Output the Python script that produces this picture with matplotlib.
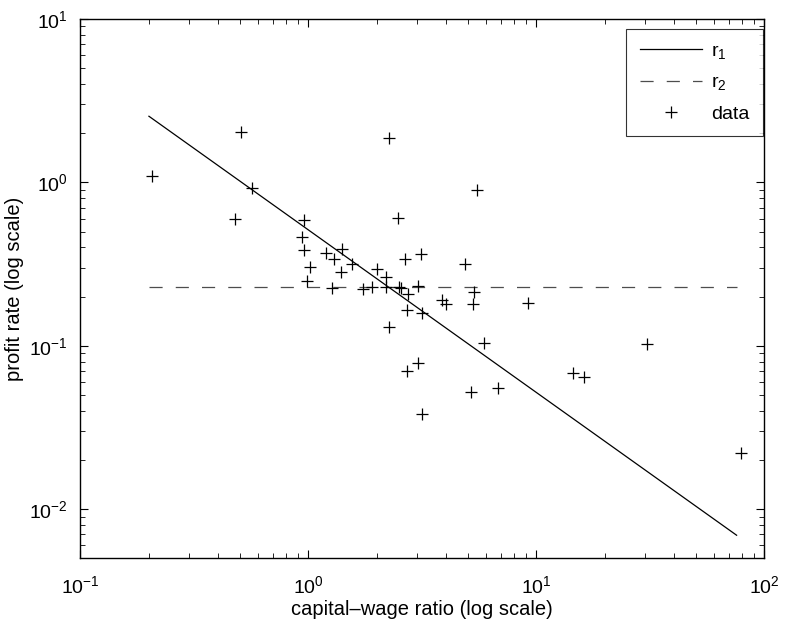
import matplotlib
matplotlib.use("Agg")
import matplotlib.pyplot as plt
import numpy as np
from matplotlib.ticker import LogLocator, NullFormatter

plt.rcParams['font.family'] = ['Liberation Sans', 'DejaVu Sans']
plt.rcParams['mathtext.fontset'] = 'custom'
plt.rcParams['mathtext.rm'] = 'Liberation Sans'
plt.rcParams['mathtext.it'] = 'Liberation Sans'
plt.rcParams['mathtext.bf'] = 'Liberation Sans'

# data
x_data = [0.206, 0.506, 0.564, 0.478, 0.960, 0.942, 0.960, 1.02, 0.984,
          2.26, 5.47, 2.48, 1.19, 1.40, 1.30, 1.39, 1.56, 1.275, 2.01, 2.19,
          2.66, 3.13, 4.87, 1.746, 1.91, 2.20, 2.51, 2.56, 3.04, 2.75, 5.31,
          3.86, 4.03, 5.28, 9.21, 2.72, 3.15, 2.27, 5.88, 3.04, 2.72, 5.17,
          6.80, 3.15, 30.7, 14.47, 16.2, 79.2]
y_data = [1.10, 2.03, 0.924, 0.597, 0.591, 0.461, 0.388, 0.304, 0.248,
          1.87, 0.893, 0.606, 0.370, 0.393, 0.340, 0.283, 0.318, 0.226, 0.293, 0.263,
          0.342, 0.365, 0.315, 0.223, 0.230, 0.228, 0.230, 0.227, 0.231, 0.206, 0.213,
          0.190, 0.179, 0.179, 0.183, 0.165, 0.159, 0.1306, 0.104, 0.0787, 0.070, 0.052,
          0.0554, 0.0384, 0.103, 0.0684, 0.0643, 0.0220]

r1_coef = 0.512
r1_exp = -0.995
r2_level = 0.230
fit_x = [0.2, 75.6]

fig = plt.figure(figsize=(7.86, 6.25), dpi=100)
ax = fig.add_axes([80.3/786, 1-558.3/625, (764.3-80.3)/786, (558.3-19)/625])

fx = np.array(fit_x)
ax.plot(fx, r1_coef * fx**r1_exp, color='black', lw=0.9, label='r$_1$')
ax.plot(fx, [r2_level, r2_level], color='0.3', lw=0.9, dashes=(10.5, 10.5), label='r$_2$')
ax.plot(x_data, y_data, linestyle='none', marker='+', color='black',
        markersize=9, markeredgewidth=0.9, label='data')

ax.set_xscale('log')
ax.set_yscale('log')
ax.set_xlim(0.1, 100)
ax.set_ylim(0.005, 10)

for s in ax.spines.values():
    s.set_linewidth(1.0)
ax.tick_params(which='both', direction='in', top=True, right=True, labelsize=14)
ax.tick_params(which='major', length=6, width=0.8)
ax.tick_params(which='minor', length=3.5, width=0.6)
ax.xaxis.set_minor_locator(LogLocator(base=10, subs=np.arange(2, 10)))
ax.yaxis.set_minor_locator(LogLocator(base=10, subs=np.arange(2, 10)))
ax.xaxis.set_minor_formatter(NullFormatter())
ax.yaxis.set_minor_formatter(NullFormatter())
ax.tick_params(axis='x', pad=12)
ax.tick_params(axis='y', pad=9)

ax.set_xlabel('capital\u2013wage ratio (log scale)', fontsize=14.5, labelpad=2)
ax.set_ylabel('profit rate (log scale)', fontsize=14.5, labelpad=4)

leg = ax.legend(loc='upper right', fontsize=14, handlelength=3.2, frameon=True,
                fancybox=False, borderaxespad=0, labelspacing=0.65,
                handletextpad=0.45, borderpad=0.7,
                bbox_to_anchor=(763.0/786, 1-29/625), bbox_transform=fig.transFigure)
leg.get_frame().set_edgecolor('black')
leg.get_frame().set_linewidth(0.8)

fig.savefig('out.png', dpi=100)
